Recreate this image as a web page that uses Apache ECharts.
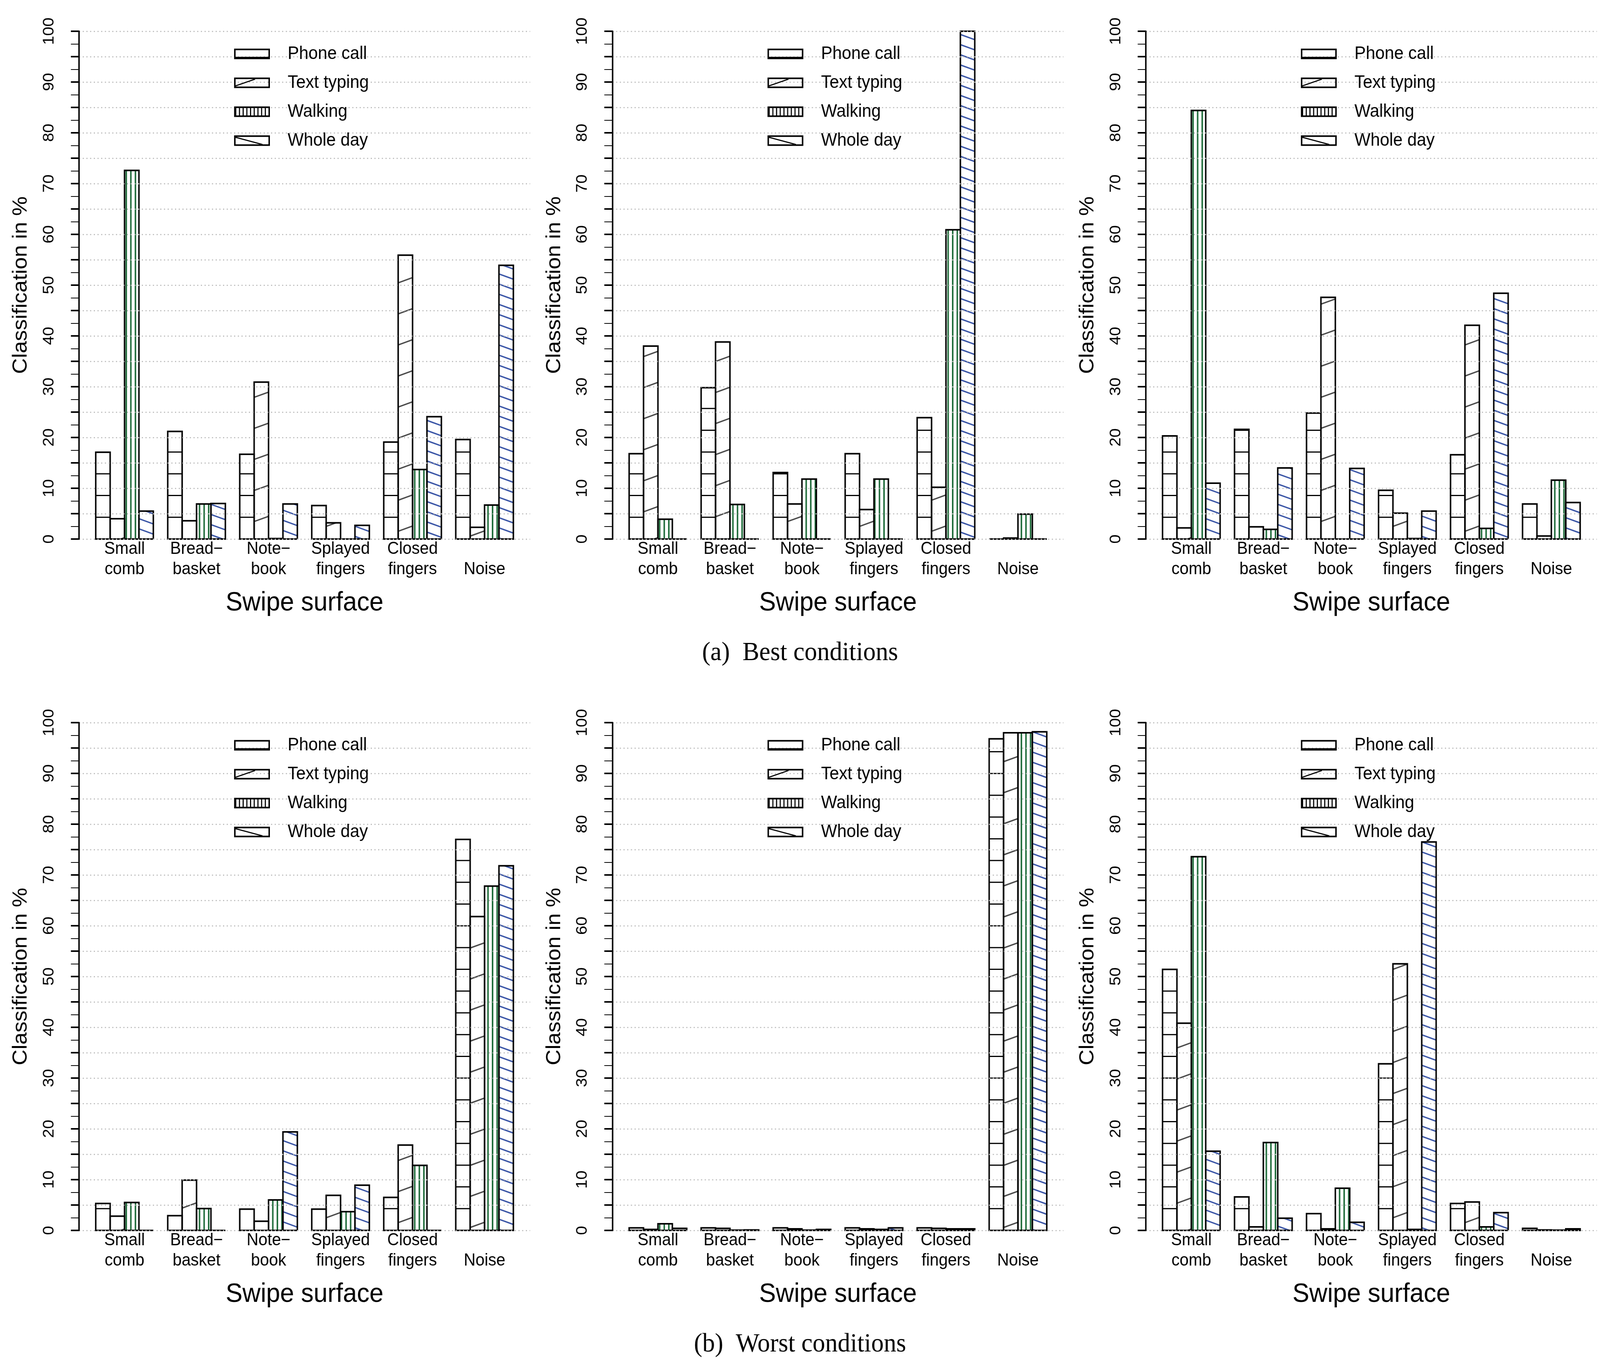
<!DOCTYPE html>
<html>
<head>
<meta charset="utf-8">
<script src="https://cdn.jsdelivr.net/npm/echarts@6.0.0/dist/echarts.min.js"></script>
<style>
html,body{margin:0;padding:0;background:#ffffff;overflow:hidden;}
#chart{width:4333px;height:3492px;transform-origin:0 0;}
</style>
</head>
<body>
<div id="chart"></div>
<script>
// ---------------- data ----------------
const categories = ['Small\ncomb', 'Bread\u2212\nbasket', 'Note\u2212\nbook', 'Splayed\nfingers', 'Closed\nfingers', '\nNoise'];
const seriesNames = ['Phone call', 'Text typing', 'Walking', 'Whole day'];
const captions = ['(a)  Best conditions', '(b)  Worst conditions'];
const xTitle = 'Swipe surface';
const yTitle = 'Classification in %';

// (a) best conditions - left, middle, right
const best1Phone = [17.1, 21.2, 16.7, 6.6, 19.1, 19.6];
const best1Text  = [4.0, 3.6, 30.9, 3.2, 55.9, 2.3];
const best1Walk  = [72.6, 6.9, 0.1, 0.0, 13.7, 6.7];
const best1Whole = [5.5, 7.0, 6.9, 2.7, 24.1, 53.9];

const best2Phone = [16.8, 29.8, 13.1, 16.8, 23.9, 0.0];
const best2Text  = [38.0, 38.8, 6.9, 5.8, 10.2, 0.2];
const best2Walk  = [3.9, 6.8, 11.8, 11.8, 60.9, 4.9];
const best2Whole = [0.0, 0.0, 0.0, 0.0, 100.0, 0.0];

const best3Phone = [20.3, 21.6, 24.8, 9.6, 16.6, 6.9];
const best3Text  = [2.2, 2.4, 47.6, 5.1, 42.1, 0.6];
const best3Walk  = [84.4, 1.9, 0.0, 0.1, 2.1, 11.6];
const best3Whole = [11.0, 14.0, 13.9, 5.5, 48.4, 7.2];

// (b) worst conditions - left, middle, right
const worst1Phone = [5.3, 2.9, 4.2, 4.2, 6.5, 77.0];
const worst1Text  = [2.8, 9.9, 1.8, 6.9, 16.8, 61.8];
const worst1Walk  = [5.5, 4.3, 6.0, 3.7, 12.8, 67.8];
const worst1Whole = [0.0, 0.0, 19.4, 8.9, 0.0, 71.8];

const worst2Phone = [0.5, 0.5, 0.5, 0.5, 0.5, 96.8];
const worst2Text  = [0.2, 0.4, 0.3, 0.3, 0.4, 98.0];
const worst2Walk  = [1.3, 0.05, 0.05, 0.2, 0.3, 98.0];
const worst2Whole = [0.4, 0.1, 0.2, 0.5, 0.3, 98.2];

const worst3Phone = [51.4, 6.6, 3.3, 32.8, 5.3, 0.4];
const worst3Text  = [40.8, 0.7, 0.3, 52.5, 5.6, 0.1];
const worst3Walk  = [73.6, 17.3, 8.3, 0.2, 0.7, 0.05];
const worst3Whole = [15.6, 2.4, 1.6, 76.5, 3.5, 0.3];

// ---------------- layout & style ----------------
const panels = [
  {row: 0, col: 0, vals: [best1Phone, best1Text, best1Walk, best1Whole]},
  {row: 0, col: 1, vals: [best2Phone, best2Text, best2Walk, best2Whole]},
  {row: 0, col: 2, vals: [best3Phone, best3Text, best3Walk, best3Whole]},
  {row: 1, col: 0, vals: [worst1Phone, worst1Text, worst1Walk, worst1Whole]},
  {row: 1, col: 1, vals: [worst2Phone, worst2Text, worst2Walk, worst2Whole]},
  {row: 1, col: 2, vals: [worst3Phone, worst3Text, worst3Walk, worst3Whole]}
];
const FONT = 'Liberation Sans';
const colStep = 1444.5;
const rowTop = [80, 1850];
const plotH = 1300;
const axisLeft = 214;
const unitPx = 39;
const gridAWidth = 31.32 * unitPx;
const gridBOffset = 0.66 * unitPx;
const gridBWidth = 30 * unitPx;

const HATCH = [
  {kind: 'h', spacing: 55.7, color: '#000000', width: 3},
  {kind: 'd', slope: -0.344, spacing: 79.5, color: '#4a4a4a', width: 3.5, phase: 30},
  {kind: 'v', spacing: 12.4, color: '#1b6a37', width: 4, phase: 3},
  {kind: 'd', slope: 0.344, spacing: 26, color: '#3a55a6', width: 3.5, phase: 5}
];

function renderBar(k) {
  const h = HATCH[k];
  return function (params, api) {
    const ci = api.value(0), v = api.value(1);
    const top = api.coord([ci, v]);
    const base = api.coord([ci, 0]);
    const bw = api.size([1, 0])[0] / 5;
    const x0 = top[0] - 2 * bw + k * bw, x1 = x0 + bw;
    const yt = top[1], yb = base[1];
    const gx = params.coordSys.x;
    const kids = [];
    const line = (ax, ay, bx, by) => kids.push({
      type: 'line', silent: true,
      shape: {x1: ax, y1: ay, x2: bx, y2: by},
      style: {stroke: h.color, lineWidth: h.width, lineCap: 'butt'}
    });
    if (yb - yt > 1) {
      if (h.kind === 'h') {
        for (let y = yb - h.spacing; y > yt + 1; y -= h.spacing) line(x0, y, x1, y);
      } else if (h.kind === 'v') {
        const jStart = Math.floor((x0 - gx - h.phase) / h.spacing);
        for (let j = jStart; ; j++) {
          const x = gx + h.phase + j * h.spacing;
          if (x > x1) break;
          if (x >= x0) line(x, yt, x, yb);
        }
      } else {
        const m = h.slope, sp = h.spacing;
        const yAt = (x, j) => yb + h.phase + m * (x - gx) - j * sp;
        const lo0 = Math.min(yAt(x0, 0), yAt(x1, 0));
        const hi0 = Math.max(yAt(x0, 0), yAt(x1, 0));
        const jMin = Math.floor((lo0 - yb) / sp);
        const jMax = Math.ceil((hi0 - yt) / sp);
        for (let j = jMin; j <= jMax; j++) {
          const Y0 = yAt(x0, j);
          const xa = x0 + (yb - Y0) / m, xb = x0 + (yt - Y0) / m;
          const lo = Math.max(x0, Math.min(xa, xb));
          const hi = Math.min(x1, Math.max(xa, xb));
          if (hi - lo > 0.5) line(lo, Y0 + m * (lo - x0), hi, Y0 + m * (hi - x0));
        }
      }
    }
    kids.push({
      type: 'rect', silent: true,
      shape: {x: x0, y: yt, width: bw, height: yb - yt},
      style: {fill: 'none', stroke: '#000000', lineWidth: 4}
    });
    return {type: 'group', children: kids};
  };
}

// legend icons (97 x 27 boxes with hatch)
const OUTLINE = 'M0 0L97 0L97 27L0 27Z M4 4L4 23L93 23L93 4Z ';
let walkStripes = '';
for (let i = 0; i < 9; i++) {
  const x = 3 + i * 10;
  walkStripes += 'M' + x + ' 0L' + (x + 3) + ' 0L' + (x + 3) + ' 27L' + x + ' 27Z ';
}
const legendIcons = [
  'path://' + OUTLINE + 'M0 21L97 21L97 27L0 27Z',
  'path://' + OUTLINE + 'M2 20.5L57 2.5L57 5.5L2 23.5Z',
  'path://' + OUTLINE + walkStripes,
  'path://' + OUTLINE + 'M2 3L77 22L77 25L2 6Z'
];

const grids = [], xAxes = [], yAxes = [], series = [], legends = [];
panels.forEach((p, pi) => {
  const gl = axisLeft + p.col * colStep;
  const gt = rowTop[p.row];
  grids.push({left: gl, top: gt, width: gridAWidth, height: plotH});
  grids.push({left: gl + gridBOffset, top: gt, width: gridBWidth, height: plotH});
  const ga = 2 * pi, gb = 2 * pi + 1;
  xAxes.push({gridIndex: ga, type: 'value', min: 0, max: 1, show: false});
  yAxes.push({
    gridIndex: ga, type: 'value', min: 0, max: 100, interval: 5, z: 3,
    name: yTitle, nameLocation: 'middle', nameGap: 129, nameRotate: 90,
    nameTextStyle: {fontFamily: FONT, fontSize: 56, color: '#000'},
    axisLine: {show: true, lineStyle: {color: '#000', width: 4}},
    axisTick: {show: true, length: 22, lineStyle: {color: '#000', width: 4}},
    minorTick: {show: true, splitNumber: 2, length: 22, lineStyle: {color: '#000', width: 2}},
    axisLabel: {
      rotate: 90, margin: 60, fontFamily: FONT, fontSize: 42, color: '#000',
      formatter: v => (v % 10 === 0 ? String(v) : '')
    },
    splitLine: {show: true, lineStyle: {color: '#bdbdbd', width: 3, type: [3, 7]}}
  });
  xAxes.push({
    gridIndex: gb, type: 'category', data: categories,
    name: xTitle, nameLocation: 'middle', nameGap: 130,
    nameTextStyle: {fontFamily: FONT, fontSize: 68, color: '#000'},
    axisLine: {show: false}, axisTick: {show: false}, splitLine: {show: false},
    axisLabel: {interval: 0, margin: 0, fontFamily: FONT, fontSize: 44, lineHeight: 52, color: '#000'}
  });
  yAxes.push({gridIndex: gb, type: 'value', min: 0, max: 100, show: false});
  p.vals.forEach((arr, k) => {
    series.push({
      type: 'custom', name: seriesNames[k], xAxisIndex: gb, yAxisIndex: gb,
      data: arr.map((v, i) => [i, v]), renderItem: renderBar(k),
      itemStyle: {color: '#000'}, z: 2, silent: true, animation: false
    });
  });
  legends.push({
    orient: 'vertical', left: gl + 420, top: gt + 35, padding: 0,
    itemWidth: 97, itemHeight: 27, itemGap: 28, selectedMode: false,
    textStyle: {fontFamily: FONT, fontSize: 46, lineHeight: 46, color: '#000', padding: [0, 0, 0, 43]},
    data: seriesNames.map((n, i) => ({name: n, icon: legendIcons[i], itemStyle: {color: '#000'}}))
  });
});

const titles = captions.map((t, r) => ({
  text: t, left: 'center', top: 1638 + r * 1770, padding: [0, 0, 0, 32],
  textStyle: {fontFamily: 'Liberation Serif', fontSize: 68, fontWeight: 'normal', color: '#000'}
}));

// the drawing is laid out for 4333x3492; map it onto the viewport we actually get
const vw = window.innerWidth, vh = window.innerHeight;
const sx = vw > 0 ? vw / 4333 : 1, sy = vh > 0 ? vh / 3492 : 1;
const el = document.getElementById('chart');
if (Math.abs(sx - 1) > 0.001 || Math.abs(sy - 1) > 0.001) {
  el.style.transform = 'scale(' + sx + ',' + sy + ')';
}

const chart = echarts.init(el, null, {renderer: 'canvas'});
chart.setOption({
  backgroundColor: '#ffffff',
  animation: false,
  title: titles,
  legend: legends,
  grid: grids,
  xAxis: xAxes,
  yAxis: yAxes,
  series: series
});
</script>
</body>
</html>
